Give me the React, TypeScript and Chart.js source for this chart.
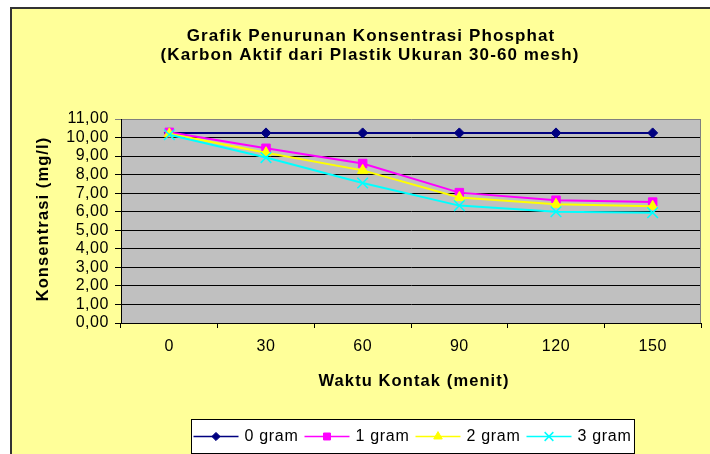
import React, { useEffect, useRef } from 'react';
import { Chart, registerables } from 'chart.js';
import { drawPoint } from 'chart.js/helpers';

Chart.register(...registerables);

const CATEGORIES = ['0', '30', '60', '90', '120', '150'];
const SERIES_NAMES = ['0 gram', '1 gram', '2 gram', '3 gram'];
const GRAM_0 = [10.25, 10.25, 10.25, 10.25, 10.25, 10.25];
const GRAM_1 = [10.28, 9.42, 8.6, 7.03, 6.62, 6.52];
const GRAM_2 = [10.2, 9.18, 8.23, 6.77, 6.4, 6.29];
const GRAM_3 = [10.15, 8.92, 7.55, 6.33, 6.0, 5.95];
const Y_TICKS = [0, 1, 2, 3, 4, 5, 6, 7, 8, 9, 10, 11];
const TITLE_LINES = [
  'Grafik Penurunan Konsentrasi Phosphat',
  '(Karbon Aktif dari Plastik Ukuran 30-60 mesh)',
];
const X_TITLE = 'Waktu Kontak (menit)';
const Y_TITLE = 'Konsentrasi (mg/l)';

const FONT = '"Liberation Sans", Arial, sans-serif';
const SPACING = '0.55px';
const BOLD_SPACING = '1.1px';

const STYLES = [
  { color: '#000080', pointStyle: 'rectRot', radius: 5, borderWidth: 1 },
  { color: '#FF00FF', pointStyle: 'rect', radius: 6, borderWidth: 1 },
  { color: '#FFFF00', pointStyle: 'triangle', radius: 6, borderWidth: 1 },
  { color: '#00FFFF', pointStyle: 'crossRot', radius: 7.5, borderWidth: 1.5 },
];

const SERIES = [GRAM_0, GRAM_1, GRAM_2, GRAM_3];

const decor = {
  id: 'decor',
  beforeUpdate(chart: any) {
    chart.ctx.letterSpacing = SPACING;
  },
  beforeDraw(chart: any) {
    const ctx = chart.ctx as CanvasRenderingContext2D;
    const { width, height } = chart;
    ctx.save();
    ctx.fillStyle = '#ffffff';
    ctx.fillRect(0, 0, width, height);
    ctx.fillStyle = '#FFFF99';
    ctx.fillRect(10, 7, width - 10, height - 7);
    ctx.fillStyle = '#333333';
    ctx.fillRect(10, 7, width - 10, 2);
    ctx.fillRect(10, 7, 2, height - 7);
    const a = chart.chartArea;
    ctx.fillStyle = '#C0C0C0';
    ctx.fillRect(a.left, a.top, a.right - a.left, a.bottom - a.top);

    ctx.fillStyle = '#000';
    ctx.font = `bold 17px ${FONT}`;
    (ctx as any).letterSpacing = BOLD_SPACING;
    ctx.textAlign = 'center';
    ctx.textBaseline = 'alphabetic';
    ctx.fillText(TITLE_LINES[0], 371, 40.5);
    ctx.fillText(TITLE_LINES[1], 370, 59.5);

    ctx.font = `bold 16.5px ${FONT}`;
    ctx.textBaseline = 'middle';
    ctx.fillText(X_TITLE, 414, 381);
    ctx.save();
    ctx.translate(43, 219);
    ctx.rotate(-Math.PI / 2);
    ctx.fillText(Y_TITLE, 0, 0);
    ctx.restore();

    ctx.restore();
    (ctx as any).letterSpacing = SPACING;
  },
  afterDraw(chart: any) {
    const ctx = chart.ctx as CanvasRenderingContext2D;
    const a = chart.chartArea;
    ctx.save();
    ctx.strokeStyle = '#808080';
    ctx.lineWidth = 1;
    ctx.beginPath();
    ctx.moveTo(a.right - 0.5, a.top);
    ctx.lineTo(a.right - 0.5, a.bottom);
    ctx.stroke();

    // legend
    ctx.font = `16px ${FONT}`;
    (ctx as any).letterSpacing = '0.7px';
    const lineLen = 45;
    const textOff = 51;
    const itemGap = 6;
    const padL = 2;
    const padR = 3;
    const widths = SERIES_NAMES.map((n) => ctx.measureText(n).width);
    let total = padL + padR;
    widths.forEach((w, i) => {
      total += textOff + w + (i < widths.length - 1 ? itemGap : 0);
    });
    const boxX = Math.round(412.5 - total / 2) + 0.5;
    const boxY = 419.5;
    const boxH = 34;
    ctx.fillStyle = '#ffffff';
    ctx.fillRect(boxX, boxY, total, boxH);
    ctx.strokeStyle = '#000';
    ctx.lineWidth = 1;
    ctx.strokeRect(boxX, boxY, total, boxH);
    const cy = boxY + boxH / 2;
    let x = boxX + padL;
    SERIES_NAMES.forEach((name, i) => {
      const st = STYLES[i];
      ctx.strokeStyle = st.color;
      ctx.lineWidth = 1.5;
      ctx.beginPath();
      ctx.moveTo(x, cy);
      ctx.lineTo(x + lineLen, cy);
      ctx.stroke();
      ctx.fillStyle = st.color;
      ctx.strokeStyle = st.color;
      ctx.lineWidth = st.borderWidth;
      drawPoint(
        ctx,
        { pointStyle: st.pointStyle, radius: st.radius * 0.82, borderWidth: st.borderWidth, rotation: 0 } as any,
        x + lineLen / 2,
        cy
      );
      ctx.fillStyle = '#000';
      ctx.textAlign = 'left';
      ctx.textBaseline = 'middle';
      ctx.fillText(name, x + textOff, cy + 0.5);
      x += textOff + widths[i] + itemGap;
    });
    ctx.restore();
    (ctx as any).letterSpacing = SPACING;
  },
};

export default function App() {
  const ref = useRef<HTMLCanvasElement>(null);
  useEffect(() => {
    const canvas = ref.current!;
    const chart = new Chart(canvas, {
      type: 'line',
      data: {
        labels: CATEGORIES,
        datasets: SERIES.map((data, i) => ({
          label: SERIES_NAMES[i],
          data,
          borderColor: STYLES[i].color,
          backgroundColor: STYLES[i].color,
          pointBackgroundColor: STYLES[i].color,
          pointBorderColor: STYLES[i].color,
          pointStyle: STYLES[i].pointStyle as any,
          pointRadius: STYLES[i].radius,
          pointBorderWidth: STYLES[i].borderWidth,
          borderWidth: 2,
          tension: 0,
          fill: false,
          order: 3 - i,
        })),
      },
      options: {
        responsive: false,
        animation: false,
        devicePixelRatio: 1,
        events: [],
        layout: { padding: { top: 119, bottom: 61, left: 0, right: 1 } },
        plugins: {
          legend: { display: false },
          title: { display: false },
          tooltip: { enabled: false },
        },
        scales: {
          x: {
            type: 'category',
            offset: true,
            grid: {
              offset: true,
              drawOnChartArea: false,
              drawTicks: true,
              tickLength: 5,
              color: '#000',
            },
            border: { color: '#000', width: 1 },
            ticks: {
              color: '#000',
              font: { size: 16, family: FONT },
              padding: 9,
              maxRotation: 0,
              autoSkip: false,
            },
            title: { display: false },
            afterFit: (s: any) => {
              s.height = 70;
            },
          },
          y: {
            min: 0,
            max: 11,
            afterBuildTicks: (s: any) => {
              s.ticks = Y_TICKS.map((v) => ({ value: v }));
            },
            grid: {
              color: (c: any) => (c.tick && c.tick.value === 11 ? '#808080' : '#000'),
              tickLength: 6,
              drawTicks: true,
            },
            border: { color: '#000', width: 1 },
            ticks: {
              color: '#000',
              font: { size: 16, family: FONT },
              padding: 6,
              autoSkip: false,
              callback: (v: any) => Number(v).toFixed(2).replace('.', ','),
            },
            title: { display: false },
            afterFit: (s: any) => {
              s.width = 121;
            },
          },
        },
      },
      plugins: [decor],
    } as any);
    return () => chart.destroy();
  }, []);
  return (
    <div
      style={{
        position: 'fixed',
        left: 0,
        top: 0,
        width: 710,
        height: 454,
        overflow: 'hidden',
        background: '#fff',
      }}
    >
      <canvas ref={ref} width={710} height={454} style={{ display: 'block', width: 710, height: 454 }} />
    </div>
  );
}
